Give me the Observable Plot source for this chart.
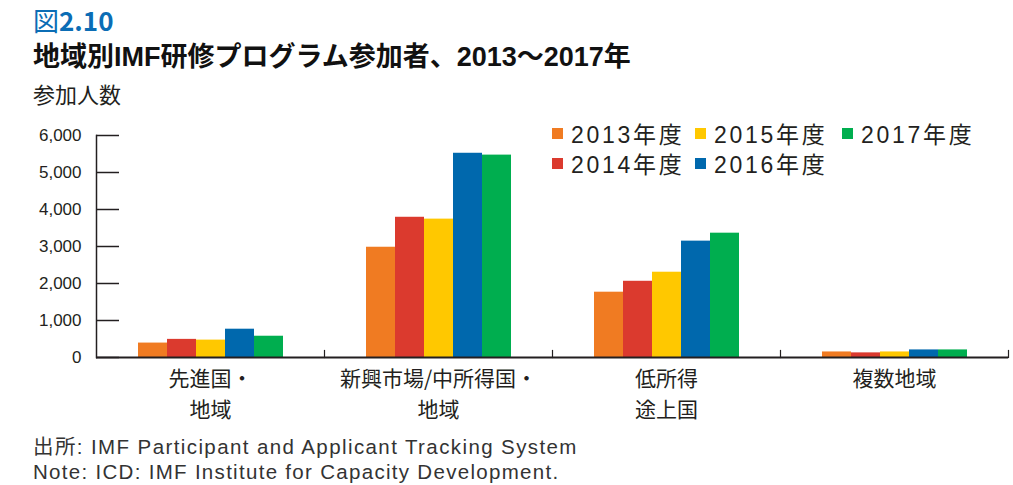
<!DOCTYPE html>
<html><head><meta charset="utf-8">
<script src="https://cdn.jsdelivr.net/npm/d3@7"></script>
<script src="https://cdn.jsdelivr.net/npm/@observablehq/plot@0.6"></script>
<style>
body{margin:0;background:#fff;font-family:"Liberation Sans","Noto Sans CJK JP",sans-serif;color:#231f20;}
#wrap{position:relative;width:1013px;height:485px;overflow:hidden;}
.abs{position:absolute;left:33px;white-space:nowrap;}
#fig{top:4px;font-size:26px;line-height:32px;color:#0b6db5;font-family:"Noto Sans CJK JP",sans-serif;}
#fig b{font-weight:700;}
#title{top:41px;font-size:27px;line-height:32px;font-weight:700;color:#111;}
#sub{top:80px;font-size:22px;line-height:26px;color:#231f20;font-family:"Noto Sans CJK JP",sans-serif;}
#foot1{top:435px;font-size:20.5px;line-height:24px;color:#333;letter-spacing:1.4px;}
#foot2{top:460px;font-size:20.5px;line-height:24px;color:#333;letter-spacing:1.3px;}
#chart{position:absolute;left:0;top:110px;}
#legend{position:absolute;left:552px;top:118px;display:grid;grid-auto-flow:column;grid-template-rows:30px 30px;grid-template-columns:143px 147px auto;font-size:23px;}
#legend .it{display:flex;align-items:center;letter-spacing:2.7px;}
#legend .sw{width:11px;height:11px;margin-right:8px;flex:none;}
</style></head>
<body>
<div id="wrap">
  <div id="fig" class="abs">図<b>2.10</b></div>
  <div id="title" class="abs">地域別IMF研修プログラム参加者、2013〜2017年</div>
  <div id="sub" class="abs">参加人数</div>
  <div id="chart"></div>
  <div id="legend"></div>
  <div id="foot1" class="abs">出所: IMF Participant and Applicant Tracking System</div>
  <div id="foot2" class="abs">Note: ICD: IMF Institute for Capacity Development.</div>
</div>
<script>
const regions = ["先進国・\n地域", "新興市場/中所得国・\n地域", "低所得\n途上国", "複数地域"];
const years = ["2013年度", "2014年度", "2015年度", "2016年度", "2017年度"];
const colors = ["#f07b22", "#db3a2e", "#ffc800", "#0068ad", "#00ae4f"];
const v2013 = [390, 2980, 1765, 150];
const v2014 = [490, 3790, 2060, 125];
const v2015 = [470, 3740, 2305, 150];
const v2016 = [765, 5520, 3145, 205];
const v2017 = [575, 5470, 3360, 205];
const yTicks = [0, 1000, 2000, 3000, 4000, 5000, 6000];

const series = [v2013, v2014, v2015, v2016, v2017];
const data = [];
regions.forEach((r, i) => years.forEach((y, j) => data.push({region: r, year: y, value: series[j][i]})));

const font = '"Liberation Sans","Noto Sans CJK JP",sans-serif';
const chart = Plot.plot({
  width: 1013,
  height: 320,
  marginTop: 25,
  marginBottom: 73,
  marginLeft: 95,
  marginRight: 4,
  style: {fontFamily: font, color: "#231f20", background: "transparent", overflow: "visible"},
  fx: {domain: regions, padding: 0, label: null},
  x: {domain: years, paddingInner: 0, paddingOuter: 1.42, axis: null},
  y: {domain: [0, 6000], axis: null},
  color: {domain: years, range: colors},
  marks: [
    Plot.barY(data, {fx: "region", x: "year", y: "value", fill: "year"}),
    Plot.frame({anchor: "left", facetAnchor: "left", stroke: "#231f20", strokeWidth: 1.5}),
    Plot.axisY({ticks: yTicks, tickSize: -23, tickFormat: () => "", label: null, strokeWidth: 1.5, stroke: "#231f20"}),
    Plot.axisY({ticks: yTicks, tickSize: 0, tickPadding: 15, tickFormat: d3.format(","), fontSize: 17, label: null}),
    Plot.frame({anchor: "right", insetTop: 215, stroke: "#231f20", strokeWidth: 1.2}),
    Plot.ruleY([0], {stroke: "#231f20", strokeWidth: 2}),
    Plot.axisFx({anchor: "bottom", tickSize: 0, tickPadding: 7, fontSize: 21, lineHeight: 1.46, label: null,
      fontFamily: '"Noto Sans CJK JP",sans-serif'})
  ]
});
document.getElementById("chart").appendChild(chart);

const lg = document.getElementById("legend");
years.forEach((y, i) => {
  const it = document.createElement("div");
  it.className = "it";
  it.innerHTML = `<span class="sw" style="background:${colors[i]}"></span><span>${y}</span>`;
  lg.appendChild(it);
});
</script>
</body></html>
